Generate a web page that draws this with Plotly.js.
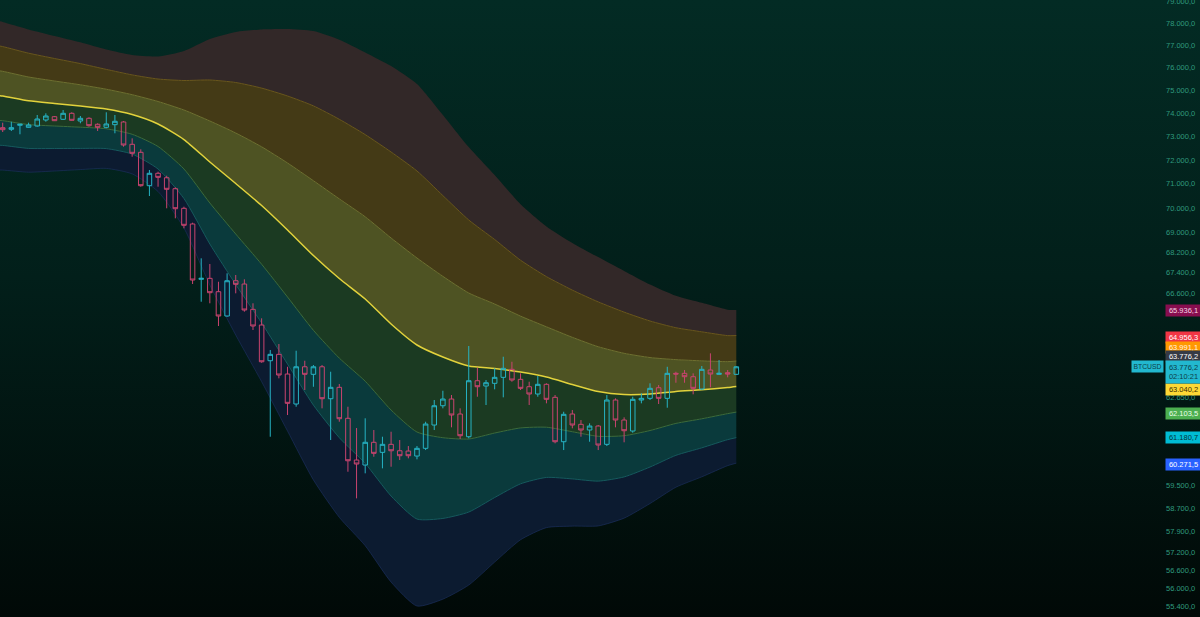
<!DOCTYPE html>
<html><head><meta charset="utf-8">
<script src="https://cdn.plot.ly/plotly-3.0.1.min.js"></script>
<style>
html,body{margin:0;padding:0;width:1200px;height:617px;overflow:hidden;
background:linear-gradient(180deg,#032b24 0%,#021f1a 45%,#010907 100%);}
#chart{width:1200px;height:617px;}
</style></head><body><div id="chart"></div>
<script>
// ---- candles (BTCUSD) ----
const opens =[73376,73307,73480,73393,73449,73708,73851,73738,73998,73665,73781,73523,73393,73505,73622,72665,72325,70922,71440,71254,70797,69988,69347,67133,67172,66647,65704,67077,66948,65962,65358,64003,64244,63506,62399,63777,63495,63777,62593,63013,61878,60382,60206,61013,60655,60941,60712,60701,60524,60798,61635,62336,62582,62034,61213,63257,63061,63161,63383,63681,63309,63035,62766,63124,62644,61034,62034,61660,61454,61599,60941,62545,61816,61418,62545,62607,62998,62607,63532,63532,63406,62950,63655,63495,63555,63495];
const highs =[73592,73635,73536,73592,73925,73998,73881,74141,74041,73881,73825,73566,74041,73925,73665,72920,72452,71578,71507,71338,70855,70054,69400,67965,67738,67038,67370,67303,67133,66195,65615,64406,64633,63777,64380,64003,63842,63842,63592,63135,62300,61526,61878,61454,61213,61393,61095,60880,60880,61754,62545,62887,62729,62241,64558,63740,63283,63718,64153,63965,63532,63220,63432,63161,62729,62117,62179,61816,61696,61635,62729,62607,61914,62666,62791,63161,63098,63777,63592,63655,63532,63805,64281,64029,63655,63805];
const lows  =[73191,73234,73093,73376,73419,73635,73665,73708,73678,73566,73419,73234,73350,73135,72563,72137,70880,70495,70880,69988,69578,69172,66948,66257,66195,65320,65678,66584,65870,65166,63928,61213,63346,61998,62300,62913,63034,62241,61095,61754,59969,59040,59913,60499,60089,60146,60382,60442,60407,60737,61454,62241,61552,61131,61156,62666,62362,62939,62644,63220,62913,62362,62666,62424,60977,60737,61515,61213,61034,60737,60880,61552,61013,61357,62424,62545,62399,62263,63183,63183,62755,62913,63013,63469,63383,63469];
const closes=[73290,73376,73523,73492,73751,73881,73678,73998,73695,73781,73462,73393,73536,73652,72635,72282,70922,71440,71271,70772,69971,69294,67105,67172,66608,65704,67077,66936,65935,65320,63965,64244,63469,62424,63777,63495,63777,62593,63013,61863,60357,60241,61013,60620,60941,60712,60535,60535,60798,61671,62336,62582,61998,61249,63257,63035,63183,63383,63718,63283,62976,62766,63124,62571,61034,62023,61635,61454,61599,60916,62545,61816,61429,62571,62607,62976,62607,63532,63506,63406,62976,63681,63506,63532,63506,63776.2];

// ---- band indicator (7 lines, top to bottom), sampled at bar indices ----
const bandIndex=[-1,0,3,6,9,12,15,18,21,24,27,30,33,36,39,42,45,48,51,54,57,60,63,66,69,72,75,78,81,84,85];
const bandUpper3=[78160,78073,77730,77431,77141,76815,76568,76505,76752,77294,77612,77730,77749,77653,77263,76689,76080,75281,73929,72550,71369,70152,69249,68582,68013,67464,66929,66487,66214,65950,65936.1];
const bandUpper2=[77023,76951,76653,76415,76187,75928,75683,75501,75435,75457,75347,75100,74753,74320,73738,73080,72337,71536,70511,69509,68719,67889,67239,66709,66249,65854,65512,65254,65097,64953,64956.3];
const bandUpper1=[75901,75843,75590,75413,75245,75051,74810,74512,74141,73665,73148,72558,71873,71130,70375,69640,68780,67977,67251,66596,66168,65700,65289,64888,64531,64282,64123,64044,63999,63969,63991.1];
const bandBasis =[74797,74753,74542,74424,74315,74185,73946,73536,72869,71915,71013,70103,69103,68077,67164,66362,65396,64596,64142,63805,63711,63581,63395,63117,62858,62747,62766,62858,62920,63002,63040.2];
const bandLower1=[73708,73678,73510,73449,73398,73329,73093,72571,71620,70206,68941,67730,66440,65155,64101,63239,62179,61382,61178,61131,61346,61530,61555,61393,61228,61249,61436,61693,61860,62048,62103.5];
const bandLower2=[72635,72618,72490,72486,72490,72482,72249,71620,70391,68538,66929,65439,63879,62358,61178,60262,59121,58328,58349,58568,59069,59545,59769,59717,59640,59787,60135,60549,60816,61109,61180.7];
const bandLower3=[71578,71574,71486,71536,71595,71645,71415,70681,69184,66909,64976,63224,61418,59682,58387,57425,56212,55427,55651,56114,56875,57624,58035,58086,58093,58359,58861,59427,59790,60184,60271.5];

// ---- price scale ----
const tickVals=[79000,78000,77000,76000,75000,74000,73000,72000,71000,70000,69000,68200,67400,66600,62650,59500,58700,57900,57200,56600,56000,55400];
const lastPrice=63776.2;
const countdown="02:10:21";
const symbol="BTCUSD";
const lineLabelValues=[65936.1,64956.3,63991.1,63040.2,62103.5,61180.7,60271.5];
const lineLabelBg=['#880e4f','#f23645','#ff9800','#fdd835','#4caf50','#00bcd4','#2962ff'];
const lineLabelFg=['#f4d6e3','#ffffff','#fff4e0','#3b3000','#eaffea','#06343a','#ffffff'];
const lineLabelShift=[0,-1.5,14,-2.5,-1,0,-1];

function fmt(v){
  const s=v.toFixed(1).split('.');
  return s[0].replace(/\B(?=(\d{3})+(?!\d))/g,'.')+','+s[1];
}
const L10=Math.log10;
const yRange=[L10(55072),L10(79082)];
const xRange=[-0.313,134.67];

const spl={shape:'spline',smoothing:0.6};
const bands=[
  {y:bandLower3,line:'rgba(30,50,100,0.6)',fill:'none'},
  {y:bandLower2,line:'#16595e',fill:'#0c1b30'},
  {y:bandLower1,line:'#3c6b3c',fill:'#0a3a3c'},
  {y:bandBasis, line:'#e2d23c',fill:'#1b3a22',w:1.5},
  {y:bandUpper1,line:'#6f7030',fill:'#4e5323'},
  {y:bandUpper2,line:'#6a561c',fill:'#443a16'},
  {y:bandUpper3,line:'rgba(0,0,0,0)',fill:'#322828'}
];
const traces=bands.map((b,k)=>({
  type:'scatter',mode:'lines',x:bandIndex,y:b.y,
  line:Object.assign({color:b.line,width:b.w||1},spl),
  fill:k===0?'none':'tonexty',fillcolor:b.fill,hoverinfo:'skip',showlegend:false
}));
const candleIndex=closes.map((_,i)=>i);
traces.push({
  type:'candlestick',x:candleIndex,open:opens,high:highs,low:lows,close:closes,
  xaxis:'x2',yaxis:'y2',
  increasing:{line:{color:'#26b3c4',width:1},fillcolor:'rgba(0,0,0,0)'},
  decreasing:{line:{color:'#c9446f',width:1},fillcolor:'rgba(0,0,0,0)'},
  whiskerwidth:0,showlegend:false,hoverinfo:'skip'
});

const ann=[];
const boxFont={family:'Liberation Sans, Arial, sans-serif',size:7.5};
lineLabelValues.forEach((v,k)=>{
  ann.push({xref:'paper',yref:'y',x:1,y:L10(v),xanchor:'left',yanchor:'middle',
    xshift:0,yshift:lineLabelShift[k],text:fmt(v),showarrow:false,
    font:Object.assign({color:lineLabelFg[k]},boxFont),bgcolor:lineLabelBg[k],
    width:33,height:9,borderpad:1,align:'center'});
});
ann.push({xref:'paper',yref:'y',x:1,y:L10(lastPrice),xanchor:'left',yanchor:'middle',
  yshift:10,text:fmt(lastPrice),showarrow:false,font:Object.assign({color:'#ffffff'},boxFont),
  bgcolor:'#363a45',width:33,height:9,borderpad:1,align:'center'});
ann.push({xref:'paper',yref:'y',x:1,y:L10(lastPrice),xanchor:'left',yanchor:'middle',
  yshift:-5,text:fmt(lastPrice)+'<br>'+countdown,showarrow:false,
  font:Object.assign({color:'#0d3f48'},boxFont),
  bgcolor:'#22b8cf',width:33,height:20,borderpad:1,align:'center'});
ann.push({xref:'paper',yref:'y',x:1,y:L10(lastPrice),xanchor:'right',yanchor:'middle',
  xshift:-1,yshift:0,text:symbol,showarrow:false,
  font:{family:'Liberation Sans, Arial, sans-serif',size:6.8,color:'#0d3f48'},
  bgcolor:'#22b8cf',width:29,height:9,borderpad:1,align:'center'});

const layout={
  width:1200,height:617,margin:{l:0,r:35,t:0,b:0},
  paper_bgcolor:'rgba(0,0,0,0)',plot_bgcolor:'rgba(0,0,0,0)',
  separators:',.',showlegend:false,boxgap:0.25,
  xaxis:{range:xRange,visible:false,rangeslider:{visible:false},fixedrange:true},
  xaxis2:{range:xRange,overlaying:'x',visible:false,rangeslider:{visible:false},fixedrange:true},
  yaxis:{type:'log',range:yRange,side:'right',
    tickmode:'array',tickvals:tickVals,ticktext:tickVals.map(fmt),ticklabeloverflow:'allow',
    tickfont:{family:'Liberation Sans, Arial, sans-serif',size:7.5,color:'#2f9a7e'},
    showgrid:false,zeroline:false,showline:false,ticks:'',fixedrange:true},
  yaxis2:{type:'log',range:yRange,overlaying:'y',side:'right',visible:false,fixedrange:true},
  shapes:[{type:'line',xref:'paper',x0:0,x1:1,yref:'y',y0:L10(lastPrice),y1:L10(lastPrice),
    line:{color:'rgba(120,160,150,0.55)',width:1,dash:'dot'}}],
  annotations:ann
};
Plotly.newPlot('chart',traces,layout,{staticPlot:true,displayModeBar:false});
</script></body></html>
